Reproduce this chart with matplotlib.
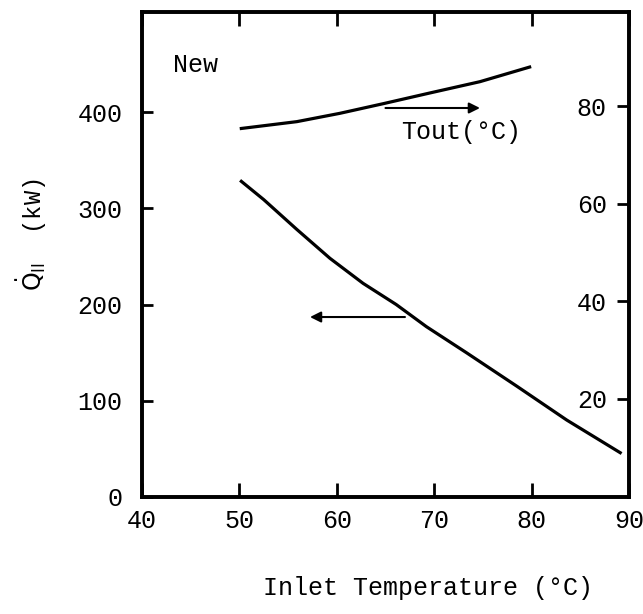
import matplotlib
matplotlib.use("Agg")
import matplotlib.pyplot as plt

# Q_II (left axis, kW) vs inlet temperature
q_temp = [50.2, 52.5, 55.9, 59.3, 62.7, 66.1, 69.2, 73.3, 78.5, 83.6, 89.1]
q_kw = [328, 309, 278, 248, 222, 200, 177, 150, 115, 80, 46]

# Tout (right axis, degC) vs inlet temperature
t_temp = [50.2, 55.9, 60.3, 64.8, 69.6, 74.7, 79.8]
t_out = [75.4, 76.8, 78.5, 80.5, 82.7, 85.0, 88.0]

x_ticks = [40, 50, 60, 70, 80, 90]
left_ticks = [0, 100, 200, 300, 400]
right_ticks = [20, 40, 60, 80]

plt.rcParams['font.family'] = ['Liberation Mono', 'DejaVu Sans Mono']
plt.rcParams['mathtext.fontset'] = 'dejavusans'

fig = plt.figure(figsize=(6.43, 6.14), dpi=100)
ax1 = fig.add_axes([0.2208, 0.1906, 0.7574, 0.7899])
ax2 = ax1.twinx()

for ax in (ax1, ax2):
    for s in ax.spines.values():
        s.set_linewidth(2.6)

ax1.plot(q_temp, q_kw, color='black', lw=2.3)
ax2.plot(t_temp, t_out, color='black', lw=2.3)

ax1.set_xlim(40, 90)
ax1.set_ylim(0, 504)
ax2.set_ylim(-0.2, 99.3)

ax1.set_xticks(x_ticks)
ax1.set_yticks(left_ticks)
ax2.set_yticks(right_ticks)

ax1.tick_params(axis='x', direction='in', top=True, length=10, width=2,
                pad=9, labelsize=18)
ax1.tick_params(axis='y', direction='in', length=8, width=2, pad=14,
                labelsize=18)
ax2.tick_params(axis='y', direction='in', length=9, width=2, pad=-16,
                labelsize=18)
for lbl in ax2.get_yticklabels():
    lbl.set_horizontalalignment('right')

# arrows pointing to each curve's axis
ax2.annotate('', xy=(74.7, 79.6), xytext=(65.0, 79.6),
             arrowprops=dict(arrowstyle='-|>', color='black', lw=1.5,
                             mutation_scale=16, shrinkA=0, shrinkB=0))
ax1.annotate('', xy=(57.25, 187), xytext=(67.0, 187),
             arrowprops=dict(arrowstyle='-|>', color='black', lw=1.5,
                             mutation_scale=16, shrinkA=0, shrinkB=0))

ax1.text(43.2, 449, 'New', fontsize=18, ha='left', va='center')
ax2.text(72.8, 74.7, 'Tout(°C)', fontsize=18, ha='center', va='center')

ax1.set_xlabel('Inlet Temperature (°C)', fontsize=18)
ax1.xaxis.set_label_coords(0.587, -0.163)
ax1.set_ylabel(r'$\dot{\mathrm{Q}}_{\mathrm{II}}$  (kW)', fontsize=17)
ax1.yaxis.set_label_coords(-0.19, 0.54)

fig.savefig('out.png', dpi=100)
